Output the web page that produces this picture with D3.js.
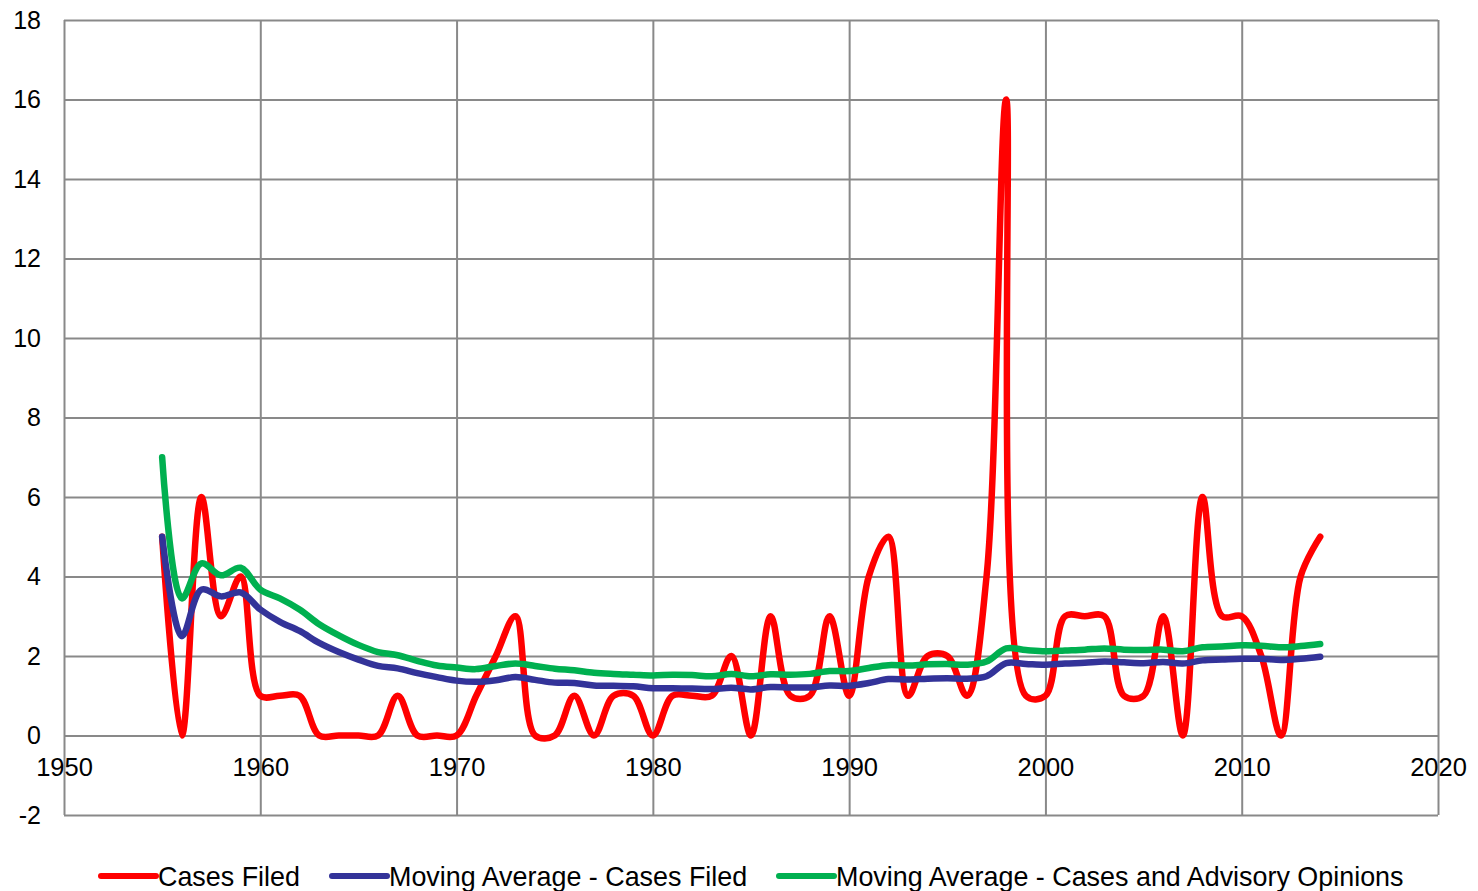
<!DOCTYPE html>
<html>
<head>
<meta charset="utf-8">
<script src="https://cdn.jsdelivr.net/npm/d3@7"></script>
<style>
  body { margin: 0; background: #fff; }
  svg { display: block; font-family: "Liberation Sans", Arial, sans-serif; }
</style>
</head>
<body>
<div id="chart"></div>
<script>
// Data, one value per year 1955-2014
const years = d3.range(1955, 2015);

const casesFiled = [5, 0, 6, 3, 4, 1, 1, 1, 0, 0,
  0, 0, 1, 0, 0, 0, 1, 2, 3, 0,
  0, 1, 0, 1, 1, 0, 1, 1, 1, 2,
  0, 3, 1, 1, 3, 1, 4, 5, 1, 2,
  2, 1, 4, 16, 1, 1, 3, 3, 3, 1,
  1, 3, 0, 6, 3, 3, 2, 0, 4, 5];

const movingAvgCases = [5, 2.5, 3.67, 3.5, 3.6, 3.17, 2.86, 2.63, 2.33, 2.1,
  1.91, 1.75, 1.69, 1.57, 1.47, 1.38, 1.35, 1.39, 1.47, 1.4,
  1.33, 1.32, 1.26, 1.25, 1.24, 1.19, 1.19, 1.18, 1.17, 1.2,
  1.16, 1.22, 1.21, 1.21, 1.26, 1.25, 1.32, 1.42, 1.41, 1.43,
  1.44, 1.43, 1.49, 1.82, 1.8, 1.78, 1.81, 1.83, 1.86, 1.84,
  1.82, 1.85, 1.81, 1.89, 1.91, 1.93, 1.93, 1.9, 1.93, 1.98];

const movingAvgAll = [7, 3.45, 4.33, 4.03, 4.22, 3.67, 3.45, 3.17, 2.8, 2.52,
  2.28, 2.1, 2.02, 1.88, 1.76, 1.71, 1.67, 1.75, 1.81, 1.75,
  1.68, 1.64, 1.58, 1.55, 1.53, 1.51, 1.53, 1.52, 1.49, 1.55,
  1.49, 1.54, 1.53, 1.55, 1.62, 1.62, 1.7, 1.77, 1.76, 1.79,
  1.8, 1.78, 1.86, 2.19, 2.15, 2.12, 2.14, 2.16, 2.19, 2.16,
  2.15, 2.16, 2.12, 2.22, 2.24, 2.27, 2.26, 2.22, 2.25, 2.3];

const seriesNames = ["Cases Filed", "Moving Average - Cases Filed", "Moving Average - Cases and Advisory Opinions"];
const seriesColors = ["#ff0000", "#333399", "#00b050"];
const xTicks = d3.range(1950, 2021, 10);
const yTicks = d3.range(-2, 19, 2);

const width = 1478, height = 891;
const margins = {top: 20, right: 40, bottom: 76, left: 64};

const svg = d3.select("#chart")
  .append("svg")
    .attr("width", width)
    .attr("height", height)
    .attr("viewBox", [0, 0, width, height]);

const xScale = d3.scaleLinear()
  .domain([1950, 2020])
  .range([margins.left, width - margins.right]);

const yScale = d3.scaleLinear()
  .domain([-2, 18])
  .range([height - margins.bottom, margins.top]);

const gridColor = "#898989";

// horizontal grid lines
svg.append("g")
  .attr("transform", `translate(${margins.left},0)`)
  .call(d3.axisLeft(yScale).tickValues(yTicks).tickSize(-(width - margins.left - margins.right)).tickFormat(""))
  .call(g => g.select(".domain").remove())
  .call(g => g.selectAll("line").attr("stroke", gridColor).attr("stroke-width", 2));

// vertical grid lines
svg.append("g")
  .attr("transform", `translate(0,${height - margins.bottom})`)
  .call(d3.axisBottom(xScale).tickValues(xTicks).tickSize(-(height - margins.top - margins.bottom)).tickFormat(""))
  .call(g => g.select(".domain").remove())
  .call(g => g.selectAll("line").attr("stroke", gridColor).attr("stroke-width", 2));

// y labels (plain hyphen for negatives, like the original)
svg.append("g")
  .attr("transform", `translate(${margins.left},0)`)
  .call(d3.axisLeft(yScale).tickValues(yTicks).tickSize(0).tickPadding(23).tickFormat(d => String(d)))
  .call(g => g.select(".domain").remove())
  .call(g => g.selectAll("text")
    .attr("font-size", "25px")
    .attr("font-family", "Liberation Sans, Arial, sans-serif")
    .attr("fill", "#000"));

// x labels sit at the zero line (axis crosses at 0)
svg.append("g")
  .attr("transform", `translate(0,${yScale(0)})`)
  .call(d3.axisBottom(xScale).tickValues(xTicks).tickSize(0).tickPadding(22).tickFormat(d => String(d)))
  .call(g => g.select(".domain").remove())
  .call(g => g.selectAll("text")
    .attr("font-size", "25.5px")
    .attr("font-family", "Liberation Sans, Arial, sans-serif")
    .attr("fill", "#000"));

// line generator
const line = d3.line()
  .curve(d3.curveCatmullRom.alpha(0.5))
  .x(d => xScale(d[0]))
  .y(d => yScale(d[1]));

const allSeries = [casesFiled, movingAvgCases, movingAvgAll];

svg.append("g")
  .selectAll("path")
  .data(allSeries)
  .join("path")
    .attr("d", vals => line(years.map((yr, i) => [yr, vals[i]])))
    .attr("fill", "none")
    .attr("stroke", (d, i) => seriesColors[i])
    .attr("stroke-width", 6.5)
    .attr("stroke-linejoin", "round")
    .attr("stroke-linecap", "round");

// legend
const legendX = [101, 332, 779];
const legendY = 876;
const legend = svg.append("g")
  .selectAll("g")
  .data(seriesNames)
  .join("g")
    .attr("transform", (d, i) => `translate(${legendX[i]},${legendY})`);

legend.append("line")
  .attr("x1", 0).attr("x2", 55)
  .attr("stroke", (d, i) => seriesColors[i])
  .attr("stroke-width", 6)
  .attr("stroke-linecap", "round");

legend.append("text")
  .attr("x", 57)
  .attr("dy", "0.36em")
  .attr("font-size", "26.9px")
  .attr("fill", "#000")
  .text(d => d);
</script>
</body>
</html>
